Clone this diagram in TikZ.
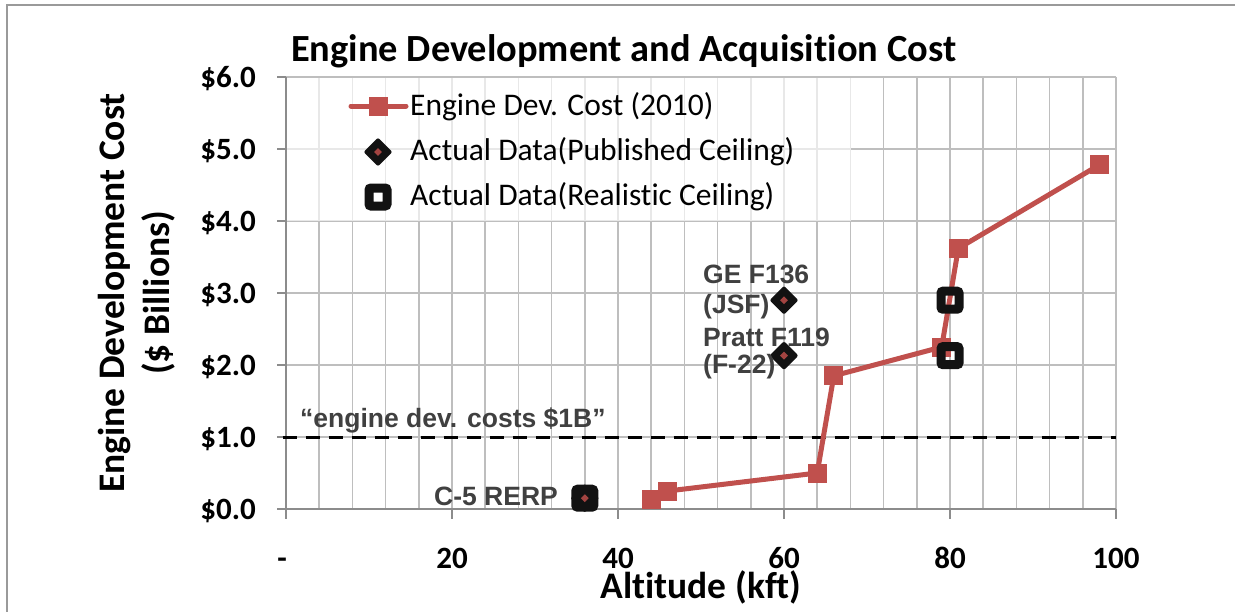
\documentclass[tikz,border=0pt]{standalone}
\usepackage{fontspec}
\setmainfont{Carlito}[Ligatures={NoCommon}]
\newfontfamily\arialfont{Liberation Sans}
\usetikzlibrary{shapes.geometric}
\definecolor{serred}{HTML}{C0504D}
\definecolor{gridgray}{HTML}{BEBEBE}
\definecolor{axgray}{HTML}{8C8C8C}
\definecolor{framegray}{HTML}{9A9A9A}
\definecolor{labgray}{HTML}{404040}
\begin{document}
\begin{tikzpicture}[x=1pt,y=-1pt,
  gridline/.style={gridgray, line width=1.6pt},
  axisline/.style={axgray, line width=2pt},
  rline/.style={serred, line width=5pt, line join=round, line cap=round},
  rsq/.style={rectangle, fill=serred, minimum size=19pt, inner sep=0pt},
  pubdia/.style={diamond, fill=black!93, minimum width=29pt, minimum height=29pt, inner sep=0pt, rounded corners=2pt},
  pubdot/.style={diamond, fill=serred!85!black, minimum width=8pt, minimum height=8pt, inner sep=0pt},
  realsq/.style={rectangle, draw=black!93, line width=9pt, minimum size=18pt, inner sep=0pt, rounded corners=2pt},
  ticklab/.style={font=\fontsize{31}{31}\selectfont\bfseries, inner sep=0pt},
  bigtitle/.style={font=\fontsize{37.5}{37.5}\selectfont\bfseries, inner sep=0pt},
  legtext/.style={font=\fontsize{31.5}{31.5}\selectfont, inner sep=0pt, anchor=base west},
  datalab/.style={font=\fontsize{26.5}{26.5}\selectfont\arialfont\bfseries, text=labgray, inner sep=0pt, anchor=base west},
  dashline/.style={black, line width=3pt, dash pattern=on 14pt off 9pt}
]
\useasboundingbox (0,0) rectangle (1235,611);
\fill[white] (0,0) rectangle (1235,611);
% outer frame
\draw[framegray, line width=1.5pt] (7,620) -- (7,5) -- (1240,5);

\begin{scope}[shift={(286,509)}, x=8.3pt, y=72pt]
  % grid
  \foreach \k in {4,8,...,96} \draw[gridline] (\k,0) -- (\k,6);
  \foreach \v in {1,...,6} \draw[gridline] (0,\v) -- (100,\v);
  \draw[gridline] (100,0) -- (100,6);
\end{scope}

% legend background
\fill[white, opacity=0.65] (287,78) rectangle (851,221);

\begin{scope}[shift={(286,509)}, x=8.3pt, y=72pt]
  % axes
  \draw[axisline] (0,0) -- (100,0);
  \draw[axisline] (0,0) -- (0,6);
  \foreach \k in {0,20,...,100} \draw[axisline] (\k,0) -- ++(0pt,-10pt);
  \foreach \v in {0,...,6} \draw[axisline] (0,\v) -- ++(-9pt,0pt);
  % dashed $1B line
  \coordinate (dl) at (-0.4,1);
  \coordinate (dr) at (100,1);
  \draw[dashline] (dl) -- (dr);
  % series
  \coordinate (p1) at (44,0.13);
  \coordinate (p2) at (46,0.25);
  \coordinate (p3) at (64,0.5);
  \coordinate (p4) at (66,1.85);
  \coordinate (p5) at (79,2.25);
  \coordinate (p6) at (81,3.62);
  \coordinate (p7) at (98,4.78);
  \draw[rline] (p1) -- (p2) -- (p3) -- (p4) -- (p5) -- (p6) -- (p7);
  \foreach \i in {1,...,7} \node[rsq] (s\i) at (p\i) {};
  % realistic ceiling
  \node[realsq] (rc1) at (36,0.15) {};
  \node[realsq] (rc2) at (80,2.9) {};
  \node[realsq] (rc3) at (80,2.13) {};
  % published ceiling
  \node[pubdia] (pc1) at (36,0.15) {};
  \node[pubdot] (pd1) at (pc1) {};
  \node[pubdia] (pc2) at (60,2.9) {};
  \node[pubdot] (pd2) at (pc2) {};
  \node[pubdia] (pc3) at (60,2.13) {};
  \node[pubdot] (pd3) at (pc3) {};
\end{scope}

% legend
\coordinate (la) at (351,106);
\coordinate (lb) at (406,106);
\draw[rline] (la) -- (lb);
\node[rsq] (lsq) at (378,106) {};
\node[pubdia] (ldia) at (378,152) {};
\node[pubdot] (ldot) at (ldia) {};
\node[realsq, fill=white] (lreal) at (378,197) {};
\node[legtext] (lt1) at (410,115) {Engine Dev. Cost (2010)};
\node[legtext] (lt2) at (410,160) {Actual Data(Published Ceiling)};
\node[legtext] (lt3) at (410,205) {Actual Data(Realistic Ceiling)};

% title
\node[bigtitle, anchor=base west, font=\fontsize{38.4}{38.4}\selectfont\bfseries] (title) at (291,61) {Engine Development and Acquisition Cost};

% y tick labels
\foreach \v in {0,...,6} \node[ticklab, anchor=base east] (yl\v) at (256,{519-72*\v}) {\$\v.0};
% x tick labels
\node[ticklab, anchor=base] (xl0) at (282,568) {-};
\node[ticklab, anchor=base] (xl1) at (452,568) {20};
\node[ticklab, anchor=base] (xl2) at (618,568) {40};
\node[ticklab, anchor=base] (xl3) at (784,568) {60};
\node[ticklab, anchor=base] (xl4) at (950,568) {80};
\node[ticklab, anchor=base] (xl5) at (1116,568) {100};

% axis titles
\node[bigtitle, anchor=base] (xtitle) at (701,598) {Altitude (kft)};
\node[bigtitle, anchor=base, rotate=90] (ytitle1) at (124,293) {Engine Development Cost};
\node[bigtitle, anchor=base, rotate=90] (ytitle2) at (169,293) {(\$ Billions)};

% data labels
\node[datalab] (lab1b) at (300,427) {“engine dev. costs \$1B”};
\node[datalab] (labc5) at (434,505) {C-5 RERP};
\node[datalab] (labge1) at (703,283) {GE F136};
\node[datalab] (labge2) at (703,313) {(JSF)};
\node[datalab] (labpw1) at (703,346) {Pratt F119};
\node[datalab] (labpw2) at (703,373) {(F-22)};
\end{tikzpicture}
\end{document}
